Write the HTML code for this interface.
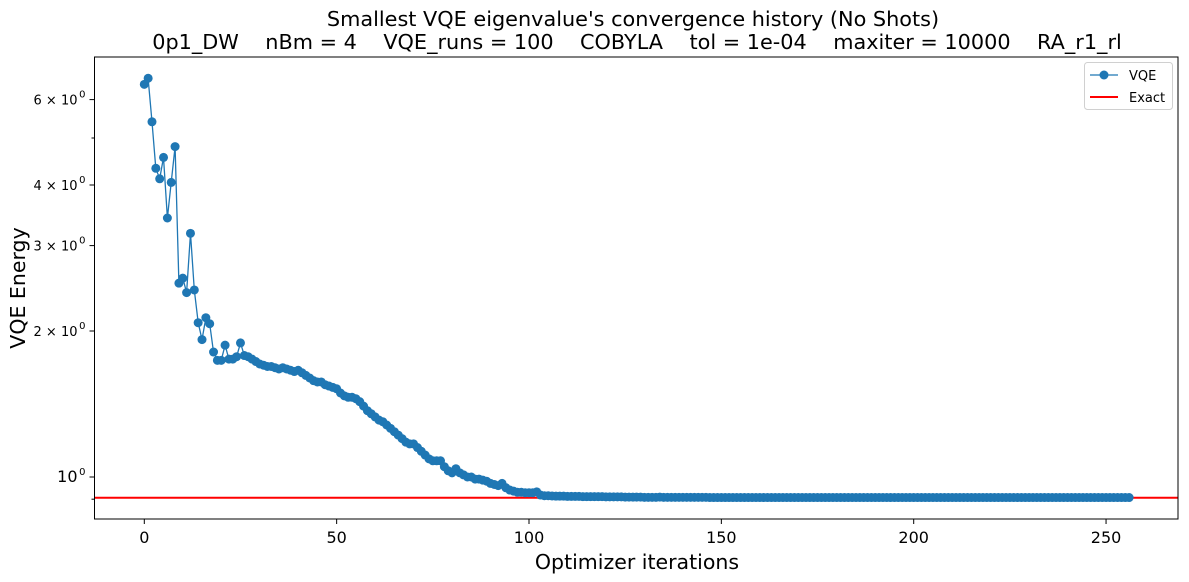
<!DOCTYPE html>
<html><head><meta charset="utf-8"><style>
body{margin:0;background:#fff;}
svg{display:block;font-family:"DejaVu Sans","Liberation Sans",sans-serif;}
</style></head><body>
<svg id="chart" width="1189" height="582" xmlns="http://www.w3.org/2000/svg">
<text x="633" y="26" text-anchor="middle" font-size="20.8">Smallest VQE eigenvalue's convergence history (No Shots)</text>
<text x="637" y="49" text-anchor="middle" font-size="20.8" xml:space="preserve">0p1_DW    nBm = 4    VQE_runs = 100    COBYLA    tol = 1e-04    maxiter = 10000    RA_r1_rl</text>
<text x="637" y="569" text-anchor="middle" font-size="20.5">Optimizer iterations</text>
<text transform="translate(25,288) rotate(-90)" text-anchor="middle" font-size="20.5">VQE Energy</text>
<g id="plot"></g>
</svg>
<script>
const iterations = [];
const vqeValues = [6.45,6.64,5.40,4.33,4.12,4.56,3.42,4.05,4.80,2.51,2.57,2.40,3.18,2.43,2.08,1.92,2.13,2.07,1.81,1.74,1.74,1.87,1.75,1.75,1.77,1.89,1.78,
1.77,1.75,1.73,1.71,1.70,1.69,1.69,1.68,1.67,1.68,1.67,1.66,1.65,1.66,1.64,1.62,1.60,1.58,1.57,1.57,1.55,1.54,1.53,1.52,
1.49,1.47,1.46,1.46,1.45,1.43,1.40,1.37,1.35,1.33,1.31,1.30,1.28,1.26,1.24,1.22,1.20,1.18,1.17,1.17,
1.15,1.13,1.11,1.09,1.08,1.08,1.08,1.05,1.03,1.02,1.04,1.02,1.01,1.00,1.00,0.99,0.99,0.985,0.98,0.97,
0.965,0.96,0.97,0.95,0.94,0.935,0.93,0.93,0.928,0.928,0.928,0.932,0.918,0.915,0.915,0.914,0.913,0.913,0.913,0.912,
0.912,0.912,0.912,0.911,0.911,0.911,0.911,0.911,0.911,0.910,0.910,0.910,0.910,0.910,0.909,0.909,0.909,0.909,0.909,0.908,0.908,0.908,0.908,0.909,0.908,0.908,
0.908,0.908,0.908,0.908,0.908,0.908,0.908,0.908,0.908,0.908,0.907,0.907,0.907,0.907,0.907,0.907,0.907,0.907,0.907,0.907,
0.907,0.907,0.907,0.907,0.907,0.907,0.907,0.907,0.907,0.907,0.907,0.907,0.907,0.907,0.907,0.907,0.907,0.907,0.907,0.907,
0.907,0.907,0.907,0.907,0.907,0.907,0.907,0.907,0.907,0.907,0.907,0.907,0.907,0.907,0.907,0.907,0.907,0.907,0.907,0.907,
0.907,0.907,0.907,0.907,0.907,0.907,0.907,0.907,0.907,0.907,0.907,0.907,0.907,0.907,0.907,0.907,0.907,0.907,0.907,0.907,
0.907,0.907,0.907,0.907,0.907,0.907,0.907,0.907,0.907,0.907,0.907,0.907,0.907,0.907,0.907,0.907,0.907,0.907,0.907,0.907,
0.907,0.907,0.907,0.907,0.907,0.907,0.907,0.907,0.907,0.907,0.907,0.907,0.907,0.907,0.907,0.907,0.907,0.907,0.907,0.907];
for (let i=0;i<vqeValues.length;i++) iterations.push(i);
const exactValue = [0.906];
const xTicks = [0,50,100,150,200,250];
const yMajorTicks = [1,2,3,4,6];
const yMajorLabels = ["10","2 \u00d7 10","3 \u00d7 10","4 \u00d7 10","6 \u00d7 10"];
const yMinorTicks = [0.9,5];

const L=94.5,R=1178,T=57,B=519;
const X=v=>144.3+v*3.847;
const Y=v=>477-Math.log10(v)*485;
const NS="http://www.w3.org/2000/svg";
const g=document.getElementById('plot');
function mk(tag,attrs,parent){const e=document.createElementNS(NS,tag);for(const k in attrs)e.setAttribute(k,attrs[k]);(parent||g).appendChild(e);return e;}

const ex=mk('line',{x1:L,x2:R,y1:Y(exactValue[0]),y2:Y(exactValue[0]),stroke:'#ff0000','stroke-width':2});



const pts=iterations.map((x,i)=>X(x).toFixed(1)+','+Y(vqeValues[i]).toFixed(1)).join(' ');
const pl=mk('polyline',{points:pts,fill:'none',stroke:'#1f77b4','stroke-width':1.3});


iterations.forEach((x,i)=>{
  const c=mk('circle',{cx:X(x),cy:Y(vqeValues[i]),r:4.5,fill:'#1f77b4'});
  
  
});

const fr=mk('rect',{x:L,y:T,width:R-L,height:B-T,fill:'none',stroke:'#000','stroke-width':1});



xTicks.forEach(v=>{
  const t=mk('line',{x1:X(v),x2:X(v),y1:B,y2:B+5,stroke:'#000'});
  
  
  const tx=mk('text',{x:X(v),y:B+24,'text-anchor':'middle','font-size':16});
  tx.textContent=v;
  
  
});
yMajorTicks.forEach((v,i)=>{
  const t=mk('line',{x1:L-5,x2:L,y1:Y(v),y2:Y(v),stroke:'#000'});
  
  
  const tx=mk('text',{x:L-17,y:Y(v)+5,'text-anchor':'end','font-size':v===1?16:13});
  tx.textContent=yMajorLabels[i];
  
  
  const sup=mk('text',{x:L-9,y:Y(v)-2,'text-anchor':'end','font-size':10});
  sup.textContent='0';
  
  
});
yMinorTicks.forEach(v=>{
  const t=mk('line',{x1:L-3,x2:L,y1:Y(v),y2:Y(v),stroke:'#000'});
  
  
});

const lg=mk('g',{});


mk('rect',{x:1084.5,y:62.5,width:88,height:47,rx:3,fill:'#fff',stroke:'#d0d0d0'},lg);
mk('line',{x1:1090,x2:1118,y1:75,y2:75,stroke:'#1f77b4','stroke-width':1.3},lg);
mk('circle',{cx:1104,cy:75,r:4.5,fill:'#1f77b4'},lg);
const t1=mk('text',{x:1129,y:80,'font-size':13},lg);t1.textContent='VQE';


mk('line',{x1:1090,x2:1118,y1:97,y2:97,stroke:'#ff0000','stroke-width':2},lg);
const t2=mk('text',{x:1129,y:102,'font-size':13},lg);t2.textContent='Exact';


</script>
</body></html>
